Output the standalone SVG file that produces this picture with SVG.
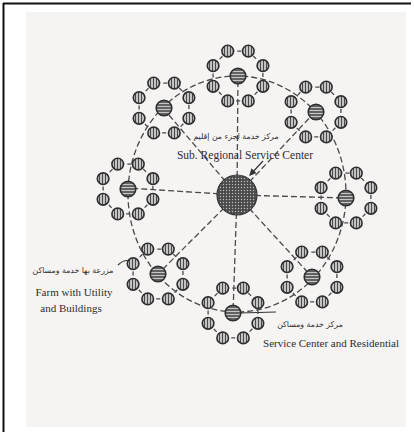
<svg xmlns="http://www.w3.org/2000/svg" xmlns:xlink="http://www.w3.org/1999/xlink" width="414" height="432" viewBox="0 0 414 432">
<style>
.ring{fill:none;stroke:#4a4a4a;stroke-width:1.3;stroke-dasharray:4 3}
.farm{fill:url(#vh);stroke:#2e2e2e;stroke-width:1.6}
.sub{fill:url(#hs);stroke:#2e2e2e;stroke-width:1.6}
.radial{stroke:#4a4a4a;stroke-width:1.3;stroke-dasharray:6 3;fill:none}
.lead{stroke:#333;stroke-width:1.2;fill:none}
.en{font-family:"Liberation Serif",serif;fill:#2e2e2e}
.ar{font-family:"DejaVu Sans","Noto Sans",sans-serif;fill:#2e2e2e;font-size:7.8px}
</style>
<defs>
<pattern id="vh" width="3" height="3" patternUnits="userSpaceOnUse">
<rect width="3" height="3" fill="#c4c2c2"/>
<line x1="1.5" y1="0" x2="1.5" y2="3" stroke="#4a4a4a" stroke-width="1"/>
</pattern>
<pattern id="hs" width="4" height="3" patternUnits="userSpaceOnUse">
<rect width="4" height="3" fill="#626262"/>
<line x1="0" y1="1.5" x2="4" y2="1.5" stroke="#e0e0e0" stroke-width="0.8"/>
</pattern>
<pattern id="dots" width="3" height="3" patternUnits="userSpaceOnUse">
<rect width="3" height="3" fill="#4a4a4a"/>
<circle cx="1.5" cy="1.5" r="0.7" fill="#c0c0c0"/>
</pattern>
<marker id="arr" viewBox="0 0 6 6" refX="5" refY="3" markerWidth="6" markerHeight="6" orient="auto">
<path d="M0,0 L6,3 L0,6 z" fill="#333"/>
</marker>
<g id="cl">
<path class="ring" d="M10.3,-24.9 L24.9,-10.3 L24.9,10.3 L10.3,24.9 L-10.3,24.9 L-24.9,10.3 L-24.9,-10.3 L-10.3,-24.9 Z"/>
<circle class="farm" cx="10.3" cy="-24.9" r="5.8"/>
<circle class="farm" cx="24.9" cy="-10.3" r="5.8"/>
<circle class="farm" cx="24.9" cy="10.3" r="5.8"/>
<circle class="farm" cx="10.3" cy="24.9" r="5.8"/>
<circle class="farm" cx="-10.3" cy="24.9" r="5.8"/>
<circle class="farm" cx="-24.9" cy="10.3" r="5.8"/>
<circle class="farm" cx="-24.9" cy="-10.3" r="5.8"/>
<circle class="farm" cx="-10.3" cy="-24.9" r="5.8"/>
<circle class="sub" cx="0" cy="0" r="7.8"/>
</g>
</defs>
<rect width="414" height="432" fill="#ffffff"/>
<rect x="26" y="12" width="380" height="415" fill="#f6f3f3"/>
<line x1="3" y1="3.5" x2="411" y2="3.5" stroke="#111" stroke-width="2"/>
<line x1="3.5" y1="3" x2="3.5" y2="432" stroke="#111" stroke-width="2"/>

<g id="connectors">
<ellipse class="radial" cx="237" cy="194" rx="109" ry="118" stroke-dasharray="8 4"/>
<line class="radial" x1="237" y1="195" x2="238" y2="76"/>
<line class="radial" x1="237" y1="195" x2="163" y2="108"/>
<line class="radial" x1="237" y1="195" x2="315" y2="112"/>
<line class="radial" x1="237" y1="195" x2="128" y2="188"/>
<line class="radial" x1="237" y1="195" x2="345" y2="198"/>
<line class="radial" x1="237" y1="195" x2="158" y2="274"/>
<line class="radial" x1="237" y1="195" x2="233" y2="313"/>
<line class="radial" x1="237" y1="195" x2="312" y2="277"/>
<line class="lead" x1="263" y1="161" x2="250" y2="175" marker-end="url(#arr)"/>
<line class="lead" x1="240" y1="313" x2="276" y2="312"/>
<path class="lead" d="M118,265 Q124,259 130,261"/>
</g>

<g id="center-node">
<circle cx="237" cy="195" r="20" fill="url(#dots)" stroke="#333" stroke-width="1.2"/>
</g>
<g id="cluster-top" transform="translate(238,76)"><use xlink:href="#cl" href="#cl"/></g>
<g id="cluster-upper-left" transform="translate(164,108)"><use xlink:href="#cl" href="#cl"/></g>
<g id="cluster-upper-right" transform="translate(316,112)"><use xlink:href="#cl" href="#cl"/></g>
<g id="cluster-left" transform="translate(128,189)"><use xlink:href="#cl" href="#cl"/></g>
<g id="cluster-right" transform="translate(346,198)"><use xlink:href="#cl" href="#cl"/></g>
<g id="cluster-lower-left" transform="translate(158,274)"><use xlink:href="#cl" href="#cl"/></g>
<g id="cluster-bottom" transform="translate(233,313)"><use xlink:href="#cl" href="#cl"/></g>
<g id="cluster-lower-right" transform="translate(312,277)"><use xlink:href="#cl" href="#cl"/></g>

<g id="labels">
<text class="ar" x="236" y="139" text-anchor="middle" direction="rtl">مركز خدمة لجزء من إقليم</text>
<text class="en" x="245" y="159" font-size="11.5" text-anchor="middle">Sub. Regional Service Center</text>
<text class="ar" x="73" y="273" text-anchor="middle" direction="rtl">مزرعة بها خدمة ومساكن</text>
<text class="en" x="74" y="296" font-size="11" text-anchor="middle">Farm with Utility</text>
<text class="en" x="71" y="312" font-size="11" text-anchor="middle">and Buildings</text>
<text class="ar" x="310" y="327" text-anchor="middle" direction="rtl">مركز خدمة ومساكن</text>
<text class="en" x="331" y="347" font-size="11" text-anchor="middle">Service Center and Residential</text>
</g>
</svg>
